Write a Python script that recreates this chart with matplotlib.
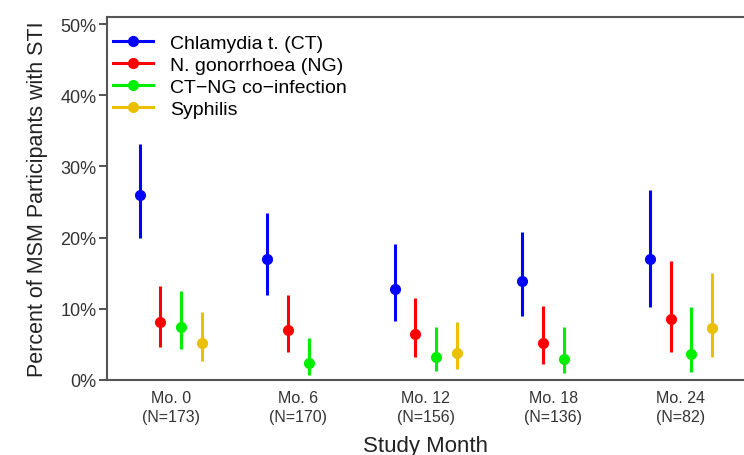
import numpy as np
import matplotlib.pyplot as plt
from matplotlib.lines import Line2D

plt.rcParams["font.family"] = ["Liberation Sans", "DejaVu Sans"]

months = ["Mo. 0", "Mo. 6", "Mo. 12", "Mo. 18", "Mo. 24"]
n_participants = [173, 170, 156, 136, 82]
series = ["Chlamydia t. (CT)", "N. gonorrhoea (NG)", "CT\u2212NG co\u2212infection", "Syphilis"]
colors = ["#0000FF", "#FF0000", "#00EE00", "#EBC000"]

# point estimate, lower and upper CI (percent)
ct_est = [26.0, 17.0, 12.8, 13.9, 17.0]
ct_lo = [19.9, 12.0, 8.3, 9.0, 10.3]
ct_hi = [33.1, 23.4, 19.1, 20.8, 26.7]

ng_est = [8.1, 7.0, 6.4, 5.2, 8.5]
ng_lo = [4.7, 4.0, 3.3, 2.3, 4.0]
ng_hi = [13.2, 12.0, 11.5, 10.4, 16.7]

co_est = [7.5, 2.4, 3.2, 3.0, 3.6]
co_lo = [4.3, 0.7, 1.2, 1.0, 1.1]
co_hi = [12.5, 5.9, 7.4, 7.4, 10.2]

sy_est = [5.2, np.nan, 3.8, np.nan, 7.3]
sy_lo = [2.6, np.nan, 1.6, np.nan, 3.2]
sy_hi = [9.6, np.nan, 8.2, np.nan, 15.1]

est = [ct_est, ng_est, co_est, sy_est]
lo = [ct_lo, ng_lo, co_lo, sy_lo]
hi = [ct_hi, ng_hi, co_hi, sy_hi]

fig = plt.figure(figsize=(7.44, 4.56), dpi=100)
ax = fig.add_axes([0.1438, 0.1645, 0.857, 0.796])

x = np.arange(len(months))
offsets = np.array([-1.5, -0.5, 0.5, 1.5]) * 0.162
for k in range(len(series)):
    e = np.asarray(est[k], dtype=float)
    l = np.asarray(lo[k], dtype=float)
    h = np.asarray(hi[k], dtype=float)
    ax.errorbar(x + offsets[k], e, yerr=[e - l, h - e], fmt="o", color=colors[k],
                ecolor=colors[k], elinewidth=2.2, markersize=7, capsize=0, zorder=3)

ax.set_xlim(-0.5, 4.5)
ax.set_ylim(0, 51)
ax.set_yticks([0, 10, 20, 30, 40, 50])
ax.set_yticklabels([f"{v}%" for v in [0, 10, 20, 30, 40, 50]], fontsize=13, color="#333333")
ax.set_xticks(x)
ax.set_xticklabels([f"{m}\n(N={n})" for m, n in zip(months, n_participants)],
                   fontsize=11.5, color="#333333", linespacing=1.35)
ax.tick_params(axis="x", length=0, pad=7)
ax.tick_params(axis="y", length=6, width=1.3, color="#444444", pad=1.5)

for side in ["left", "bottom", "top"]:
    ax.spines[side].set_color("#555555")
    ax.spines[side].set_linewidth(1.5)
ax.spines["right"].set_visible(False)

ax.set_ylabel("Percent of MSM Participants with STI", fontsize=15.5, color="#222222", labelpad=9)
ax.set_xlabel("Study Month", fontsize=16, color="#222222", labelpad=8)

handles = [Line2D([0], [0], color=c, lw=2.2, marker="o", markersize=7) for c in colors]
ax.legend(handles, series, loc="upper left", frameon=False, fontsize=14,
          handlelength=2.06, handletextpad=0.88, labelspacing=0.22,
          borderaxespad=0.0, borderpad=0.3, bbox_to_anchor=(0.0, 0.968))

fig.savefig("out.png", dpi=100)
